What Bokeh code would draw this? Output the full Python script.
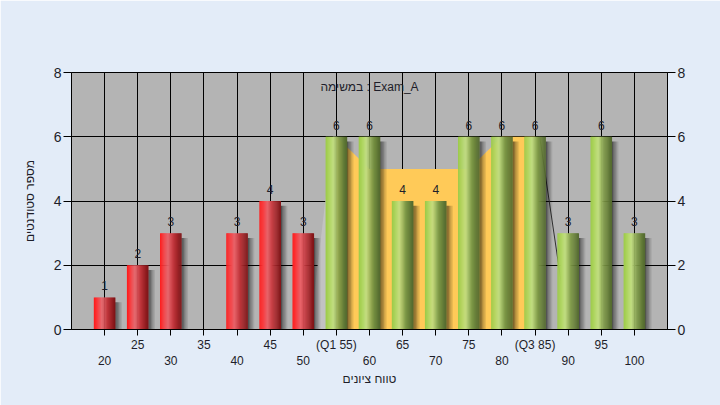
import numpy as np
from bokeh.plotting import figure
from bokeh.models import LinearAxis, FixedTicker, Range1d, Label, ColumnDataSource, Grid
from bokeh.embed import file_html
from bokeh.resources import INLINE
from bokeh.core.properties import value

# ---------------- data ----------------
grades = [20, 25, 30, 35, 40, 45, 50, 55, 60, 65, 70, 75, 80, 85, 90, 95, 100]
counts = [1, 2, 3, 0, 3, 4, 3, 6, 6, 4, 4, 6, 6, 6, 3, 6, 3]
pass_mark = 55
q1 = 55
q3 = 85
band_x = [55, 60, 65, 70, 75, 80, 85]
band_y = [6, 5, 5, 5, 5, 6, 6]
env_x = [51, 54.5, 85.7, 90]
env_y = [0, 6, 6, 0]
y_ticks = [0, 2, 4, 6, 8]
row1_ticks = [25, 35, 45, 55, 65, 75, 85, 95]
row2_ticks = [20, 30, 40, 50, 60, 70, 80, 90, 100]
title_lines = [
    "היסטוגרמת ציונים בקורס - מבוא להסתברות וסטטיסטיקה",
    "בסמסטר  (02/2023)  סמסטר אביב 2023/24",
    "סטודנטים רשומים - 88",
]
task_text = "במשימה : Exam_A"
x_label = "טווח ציונים"
y_label = "מספר סטודנטים"

FONT = "Liberation Sans"
BG = "#e3ecf8"
TXT = "#1e1e2a"

p = figure(width=720, height=405, x_range=Range1d(15, 105), y_range=Range1d(0, 8),
           output_backend="svg", toolbar_location=None,
           x_axis_type=None, y_axis_type=None,
           min_border_left=71, min_border_right=53, min_border_top=72, min_border_bottom=76)
p.background_fill_color = "#b4b4b4"
p.border_fill_color = BG
p.outline_line_color = "black"
p.outline_line_width = 1

# grids
p.add_layout(Grid(dimension=0, ticker=FixedTicker(ticks=grades), grid_line_color="black", grid_line_width=1))
p.add_layout(Grid(dimension=1, ticker=FixedTicker(ticks=y_ticks), grid_line_color="black", grid_line_width=1))

# axes
def style_axis(ax, size):
    ax.major_label_text_font = FONT
    ax.major_label_text_font_size = size
    ax.major_label_text_color = TXT
    ax.axis_line_color = "black"
    ax.major_tick_line_color = "black"
    ax.minor_tick_line_color = None
    ax.axis_label_text_font = FONT
    ax.axis_label_text_font_style = "normal"
    ax.axis_label_text_color = TXT
    ax.axis_label_text_font_size = "12px"

xa1 = LinearAxis(ticker=FixedTicker(ticks=grades))
style_axis(xa1, "12px")
xa1.major_tick_in = 0
xa1.major_tick_out = 6
xa1.major_label_standoff = 2
ov = {g: "" for g in grades}
for g in row1_ticks:
    ov[g] = str(g)
ov[q1] = f"(Q1 {q1})"
ov[q3] = f"(Q3 {q3})"
xa1.major_label_overrides = ov
p.add_layout(xa1, "below")

xa2 = LinearAxis(ticker=FixedTicker(ticks=row2_ticks), axis_label=x_label)
style_axis(xa2, "12px")
xa2.axis_line_color = None
xa2.major_tick_line_color = None
xa2.major_tick_in = 0
xa2.major_tick_out = 0
xa2.major_label_standoff = 1
xa2.axis_label_standoff = 4
p.add_layout(xa2, "below")

ya = LinearAxis(ticker=FixedTicker(ticks=y_ticks), axis_label=y_label)
style_axis(ya, "14px")
ya.major_tick_in = 0
ya.major_tick_out = 8
ya.major_label_standoff = 2
ya.axis_label_standoff = 14
p.add_layout(ya, "left")

yr = LinearAxis(ticker=FixedTicker(ticks=y_ticks))
style_axis(yr, "14px")
yr.major_tick_in = 0
yr.major_tick_out = 8
yr.major_label_standoff = 2
p.add_layout(yr, "right")

# envelope edges and quartile band
p.patch([env_x[0], env_x[1], q1, q1], [env_y[0], env_y[1], env_y[1], 0],
        fill_color="#c2c2c2", line_color=None)
p.line(env_x[2:], env_y[2:], line_color="#303030", line_width=1)
p.patch([band_x[0]] + band_x + [band_x[-1]], [0] + band_y + [0],
        fill_color="#ffca58", line_color=None)

# bars with cylinder shading
W = 3.2
N = 20
red_stops = [(0.0, (255, 25, 25)), (0.15, (250, 55, 58)), (0.38, (232, 100, 106)),
             (0.65, (190, 52, 58)), (1.0, (125, 18, 20))]
green_stops = [(0.0, (155, 202, 72)), (0.15, (172, 212, 92)), (0.36, (194, 222, 130)),
               (0.65, (125, 152, 70)), (1.0, (82, 104, 46))]

def interp(stops, t):
    for (t0, c0), (t1, c1) in zip(stops[:-1], stops[1:]):
        if t <= t1:
            f = (t - t0) / (t1 - t0)
            return "#%02x%02x%02x" % tuple(int(round(a + (b - a) * f)) for a, b in zip(c0, c1))
    return "#%02x%02x%02x" % stops[-1][1]

gx = np.array(grades, dtype=float)
gc = np.array(counts, dtype=float)
mask = gc > 0

# shadows (semi-transparent so they tint the yellow band too)
shadow_alpha = [0.55, 0.42, 0.3, 0.19, 0.09]
sw = 1.0 / len(shadow_alpha)
for k, a in enumerate(shadow_alpha):
    p.vbar(x=gx[mask] + W / 2 + (k + 0.5) * sw, width=sw, bottom=0,
           top=gc[mask] - 0.15, fill_color="black", fill_alpha=a, line_color=None)

for i in range(N):
    t = (i + 0.5) / N
    xs = gx[mask] - W / 2 + (i + 0.5) * W / N
    cols = [interp(red_stops if g < pass_mark else green_stops, t) for g in gx[mask]]
    p.vbar(x=xs, width=W / N * 1.4, bottom=0, top=gc[mask], fill_color=cols, line_color=None)

src = ColumnDataSource(dict(x=gx[mask], y=gc[mask], t=[str(int(c)) for c in gc[mask]]))
p.text(x="x", y="y", text="t", source=src, text_font=value(FONT), text_font_size="12px",
       text_color=TXT, text_align="center", text_baseline="bottom", y_offset=-7)

# titles & inner caption
for k, line in enumerate(title_lines):
    p.add_layout(Label(x=58.6, y=9.71 - 0.405 * k, text=line, text_font=FONT,
                       text_font_size="12px", text_color=TXT, text_align="center",
                       text_baseline="middle"))
p.add_layout(Label(x=60, y=7.56, text=task_text, text_font=FONT, text_font_size="12px",
                   text_color=TXT, text_align="center", text_baseline="middle"))

html = file_html(p, INLINE)
html = html.replace("<body>", '<body style="background-color:%s;">' % BG, 1)
open("out.html", "w").write(html)
